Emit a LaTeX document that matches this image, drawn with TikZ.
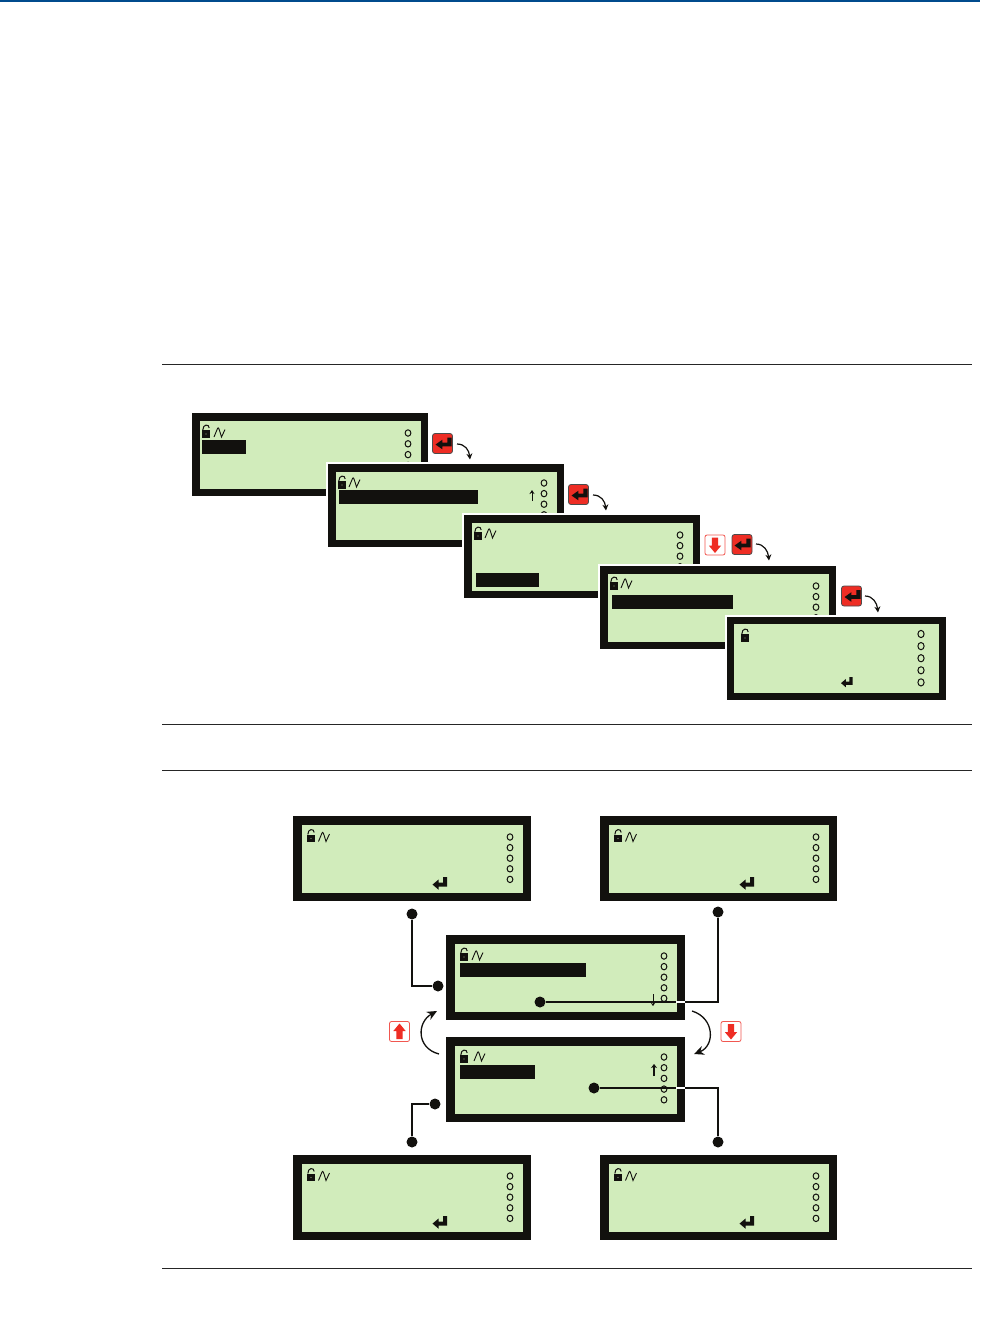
\documentclass[tikz,border=0pt]{standalone}
\usepackage{tikz}
\usetikzlibrary{arrows.meta,calc}
\definecolor{lcdgreen}{RGB}{209,236,187}
\definecolor{lcdink}{RGB}{18,17,14}
\definecolor{keyred}{RGB}{238,45,36}
\definecolor{barblue}{RGB}{0,75,141}
% panel: name, x1, y1, x2, y2, frame thickness
\newcommand{\lcdpanel}[6]{\node[panel, line width=#6pt, preaction={draw=white, line width=#6pt+4pt},
  minimum width={(#4-#2-#6)*1pt}, minimum height={(#5-#3-#6)*1pt}] (#1) at ({(#2+#4)/2},{(#3+#5)/2}) {};}
% open lock with its top-left corner at x, y
\newcommand{\lcdlock}[2]{\fill[lcdink] (#1,#2+5) rectangle (#1+8,#2+12.5);
  \draw[lcdink, line width=1pt] (#1+0.8,#2+5) .. controls (#1+0.8,#2-1.2) and (#1+7.2,#2-1.2) .. (#1+7.2,#2+3);
  \fill[lcdgreen!70!lcdink] (#1+4,#2+9) circle (0.6);}
\newcommand{\lcdwave}[2]{\draw[lcdink, line width=0.9pt] (#1,#2+10) -- (#1+3.5,#2+1.5) .. controls (#1+4.5,#2) .. (#1+7.5,#2+10) -- (#1+11,#2+2.5);}
% column of five rings: x, first y, spacing, rx, ry
\newcommand{\lcdrings}[5]{\foreach \k in {0,...,4} {\draw[lcdink, line width=1pt] (#1,{#2+\k*#3}) ellipse (#4 and #5);}}
% enter glyph: x, y, width, height
\newcommand{\lcdenter}[4]{\fill[lcdink, shift={(#1,#2)}, xscale=#3/14, yscale=#4/13]
  (14,0) -- (14,9.7) -- (6,9.7) -- (6,12.8) -- (0,7.6) -- (6,2.4) -- (6,5.6) -- (10.3,5.6) -- (10.3,0) -- cycle;}
% block arrow on a white key, pointing down (+1) or up (-1)
\newcommand{\keyarrow}[3]{\fill[keyred, shift={(#1)}, yscale=#2]
  (-3.2,-7.5) -- (3.2,-7.5) -- (3.2,0.5) -- (6.2,0.5) -- (0,#3) -- (-6.2,0.5) -- (-3.2,0.5) -- cycle;}
\begin{document}
\begin{tikzpicture}[x=1pt, y=-1pt,
  panel/.style={draw=lcdink, fill=lcdgreen, inner sep=0pt},
  bar/.style={fill=lcdink},
  enterkey/.style={draw=black!70, fill=keyred, rounded corners=2.5pt, line width=0.8pt, minimum size=20pt, inner sep=0pt},
  movekey/.style={draw=keyred!80, fill=white, rounded corners=2pt, line width=0.8pt, minimum size=20pt, inner sep=0pt},
  dot/.style={circle, fill=lcdink, minimum size=11pt, inner sep=0pt},
  link/.style={lcdink, line width=2.4pt},
  linkgap/.style={white, line width=2.4pt},
  hop/.style={-{Stealth[length=6pt, width=6pt]}, lcdink, line width=1.2pt},
  swing/.style={-{Stealth[length=10pt, width=9pt]}, lcdink, line width=1.3pt},
  rule/.style={black!85, line width=0.7pt}]
\useasboundingbox (0,0) rectangle (993,1339);
\fill[barblue] (0,0) rectangle (980,2);
\foreach \yr in {364,724,770,1268.6} {\draw[rule] (162,\yr) -- (972,\yr);}
% ---- the five screens of the stepped sequence, each on top of the last
\lcdpanel{sone}{192}{413}{428}{496}{7.5}
\lcdlock{202}{425} \lcdwave{214}{427} \lcdrings{408}{433}{10.8}{2.9}{3.2}
\fill[bar] (202,440) rectangle (246,454);
\lcdpanel{stwo}{328}{464}{564}{547}{7.5}
\lcdlock{338}{476} \lcdwave{349}{477} \lcdrings{544}{483}{10.6}{2.9}{3.2}
\fill[bar] (339,490) rectangle (478,504);
\draw[-{Stealth[length=4pt, width=5pt]}, lcdink, line width=1pt] (532,501) -- (532,490);
\lcdpanel{sthree}{464}{515}{700}{598}{7.5}
\lcdlock{474}{527} \lcdwave{485}{528} \lcdrings{680}{535}{10.6}{2.9}{3.2}
\fill[bar] (476,573) rectangle (539,587);
\lcdpanel{sfour}{600}{566}{836}{649}{7.5}
\lcdlock{610}{577} \lcdwave{621}{578} \lcdrings{816}{586}{10.6}{2.9}{3.2}
\fill[bar] (612,595) rectangle (733,609);
\lcdpanel{sfive}{727}{617}{946}{700}{7}
\lcdlock{741}{629} \lcdrings{921}{634}{12.1}{3.1}{3.6}
\lcdenter{841}{677}{11.5}{10.5}
% ---- keys and hops of the sequence
\node[enterkey] (kone) at (442.5,443.5) {}; \lcdenter{435.5}{437.5}{16}{12}
\coordinate (hone) at (470,459.5);
\draw[hop] (457,444) .. controls (465,444) and (469,450) .. (hone);
\node[enterkey] (ktwo) at (578.5,494.5) {}; \lcdenter{571.5}{488.5}{16}{12}
\coordinate (htwo) at (606,510.5);
\draw[hop] (593,495) .. controls (601,495) and (605,501) .. (htwo);
\node[movekey] (kdown) at (715,545) {}; \keyarrow{715,545}{1}{8}
\node[enterkey] (kthree) at (742,544.5) {}; \lcdenter{734.5}{538.5}{16}{12}
\coordinate (hthree) at (769,560.5);
\draw[hop] (756,544) .. controls (764,544) and (768,551) .. (hthree);
\node[enterkey] (kfour) at (851.5,596) {}; \lcdenter{844.5}{590}{16}{12}
\coordinate (hfour) at (878,612.5);
\draw[hop] (865,596) .. controls (873,596) and (877,603) .. (hfour);
% ---- the menu loop: four outer screens
\foreach \nm/\xa/\xb/\ya/\yb in {tlft/293/531/816/901, trgt/600/837/816/901, blft/293/531/1155/1240, brgt/600/837/1155/1240} {
  \lcdpanel{\nm}{\xa}{\ya}{\xb}{\yb}{8.5}
  \pgfmathsetmacro{\lx}{\xa+14}
  \pgfmathsetmacro{\ly}{\ya+13.5}
  \lcdlock{\lx}{\ly}
  \lcdwave{\lx+11.5}{\ly+2}
  \lcdrings{\xb-21}{\ya+21}{10.6}{2.9}{3.2}
  \lcdenter{\xa+139.5}{\ya+61}{14.5}{13}
}
% ---- the two middle screens
\lcdpanel{mtop}{446}{935}{685}{1020}{8.5}
\lcdlock{460}{948} \lcdwave{472}{950} \lcdrings{664}{956}{10.6}{2.9}{3.2}
\fill[bar] (460,963) rectangle (586,977);
\draw[-{Stealth[length=3pt, width=4pt]}, lcdink, line width=0.7pt] (653,994) -- (653,1006);
\lcdpanel{mlow}{446}{1037}{685}{1122}{8.5}
\lcdlock{460}{1050} \lcdwave{474}{1051} \lcdrings{664}{1057}{10.7}{2.9}{3.2}
\fill[bar] (460,1065) rectangle (535,1079);
\draw[-{Stealth[length=4pt, width=6pt]}, lcdink, line width=1.5pt] (654,1076) -- (654,1064);
% ---- connectors with their dots
\node[dot] (aone) at (412,914) {};   \node[dot] (atwo) at (438,986) {};
\draw[link] (aone) |- (atwo);
\node[dot] (bone) at (718,912) {};   \node[dot] (btwo) at (540,1002) {};
\draw[link] (bone) |- (btwo);
\draw[linkgap] (mtop.east |- btwo) -- ++(-9,0);
\node[dot] (cone) at (412,1142) {};  \node[dot] (ctwo) at (435,1104) {};
\draw[link] (cone) |- (ctwo);
\node[dot] (done) at (718,1142) {};  \node[dot] (dtwo) at (594,1088) {};
\draw[link] (done) |- (dtwo);
\draw[linkgap] (mlow.east |- dtwo) -- ++(-9,0);
% ---- up and down between the middle screens
\coordinate (upa) at (439,1054);   \coordinate (upb) at (437,1011);
\draw[swing] (upa) .. controls (416,1048) and (417,1022) .. (upb);
\coordinate (dna) at (692,1011);   \coordinate (dnb) at (694,1054);
\draw[swing] (dna) .. controls (715,1018) and (715,1046) .. (dnb);
\node[movekey] (kup) at (399.5,1031.5) {}; \keyarrow{399.5,1031.5}{-1}{8}
\node[movekey] (kdn) at (731,1031.5) {}; \keyarrow{731,1031.5}{1}{8}
\end{tikzpicture}
\end{document}
